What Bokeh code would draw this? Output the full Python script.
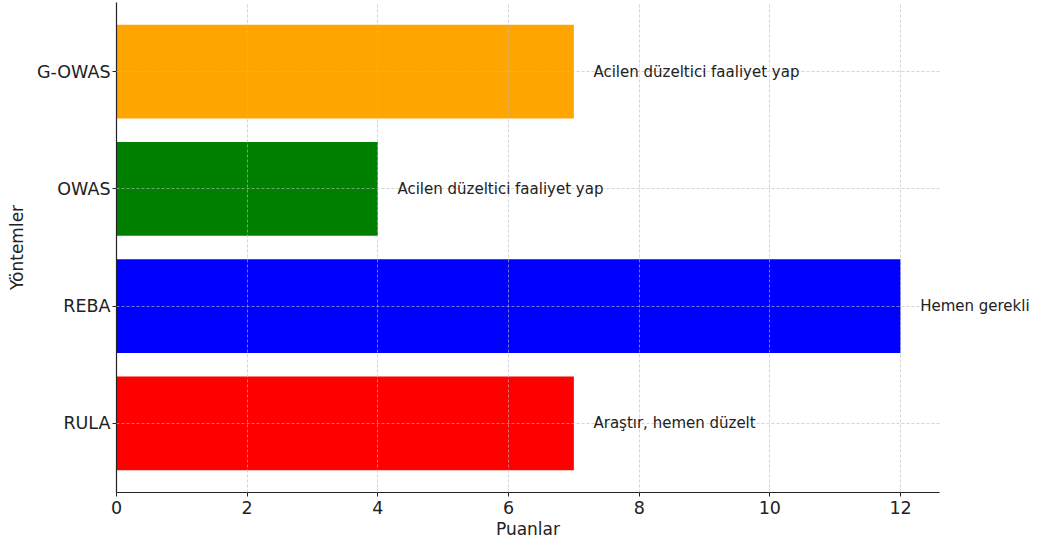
from bokeh.plotting import figure
from bokeh.models import ColumnDataSource, FixedTicker, LabelSet, Range1d, Grid, Title
from bokeh.core.properties import value
from bokeh.embed import file_html
from bokeh.resources import INLINE

methods = ["RULA", "REBA", "OWAS", "G-OWAS"]
scores = [7, 12, 4, 7]
actions = ["Araştır, hemen düzelt", "Hemen gerekli",
           "Acilen düzeltici faaliyet yap", "Acilen düzeltici faaliyet yap"]
colors = ["#FF0000", "#0000FF", "#008000", "#FFA500"]
x_ticks = [0, 2, 4, 6, 8, 10, 12]
x_max = 12.6
x_title = "Puanlar"
y_title = "Yöntemler"

FONT = "DejaVu Sans"
idx = list(range(len(methods)))

src = ColumnDataSource(dict(
    y=idx, score=scores, color=colors, text=actions,
    lx=[s + 0.3 for s in scores],
))

FRAME_LEFT = 116
X_END = 14.05
p = figure(width=1034, height=538, output_backend="svg", toolbar_location=None,
           x_range=Range1d(0, X_END), y_range=Range1d(-0.59, 3.59),
           min_border_left=FRAME_LEFT, min_border_right=0, min_border_top=2,
           min_border_bottom=10)
p.outline_line_color = None
p.background_fill_color = "white"

p.hbar(y="y", right="score", left=0, height=0.8, color="color", line_color=None, source=src)

labels = LabelSet(x="lx", y="y", text="text", source=src, text_baseline="middle",
                  text_font=value(FONT), text_font_size="15px", text_color="#222222")
p.add_layout(labels)

p.xaxis.ticker = FixedTicker(ticks=x_ticks)
p.xaxis.bounds = (0, x_max)
p.yaxis.ticker = FixedTicker(ticks=idx)
p.yaxis.major_label_overrides = {i: m for i, m in zip(idx, methods)}

for ax in (p.xaxis[0], p.yaxis[0]):
    ax.axis_line_color = "#222222"
    ax.axis_line_width = 1.2
    ax.major_tick_out = 4
    ax.major_tick_in = 0
    ax.major_tick_line_color = "#222222"
    ax.minor_tick_line_color = None
    ax.major_label_text_font = FONT
    ax.major_label_text_font_size = "17.5px"
    ax.major_label_text_color = "#222222"
    ax.axis_label_text_font = FONT
    ax.axis_label_text_font_size = "17px"
    ax.axis_label_text_font_style = "normal"
    ax.axis_label_text_color = "#222222"

p.yaxis.axis_label = y_title
p.xaxis.major_label_standoff = 4
p.yaxis.major_label_standoff = 2
p.yaxis.axis_label_standoff = 7

# x-axis title centred under the 0..x_max span of the axis
frame_w = 1034 - FRAME_LEFT
px_per_unit = frame_w / X_END
title_w = 3.786 * 17
xt = Title(text=x_title, align="left", offset=x_max / 2 * px_per_unit - title_w / 2,
           text_font=FONT, text_font_size="17px", text_font_style="normal",
           text_color="#222222", standoff=0)
p.add_layout(xt, "below")

p.xgrid.ticker = FixedTicker(ticks=x_ticks[1:])
p.ygrid.ticker = FixedTicker(ticks=idx)
for g in (p.xgrid[0], p.ygrid[0]):
    g.grid_line_color = "#bbbbbb"
    g.grid_line_dash = "3 2"
    g.grid_line_width = 0.8
    g.grid_line_alpha = 0.8
    g.level = "guide"
if "cross_bounds" in Grid.properties():
    p.ygrid[0].cross_bounds = (0, x_max)

open("out.html", "w").write(file_html(p, INLINE))
